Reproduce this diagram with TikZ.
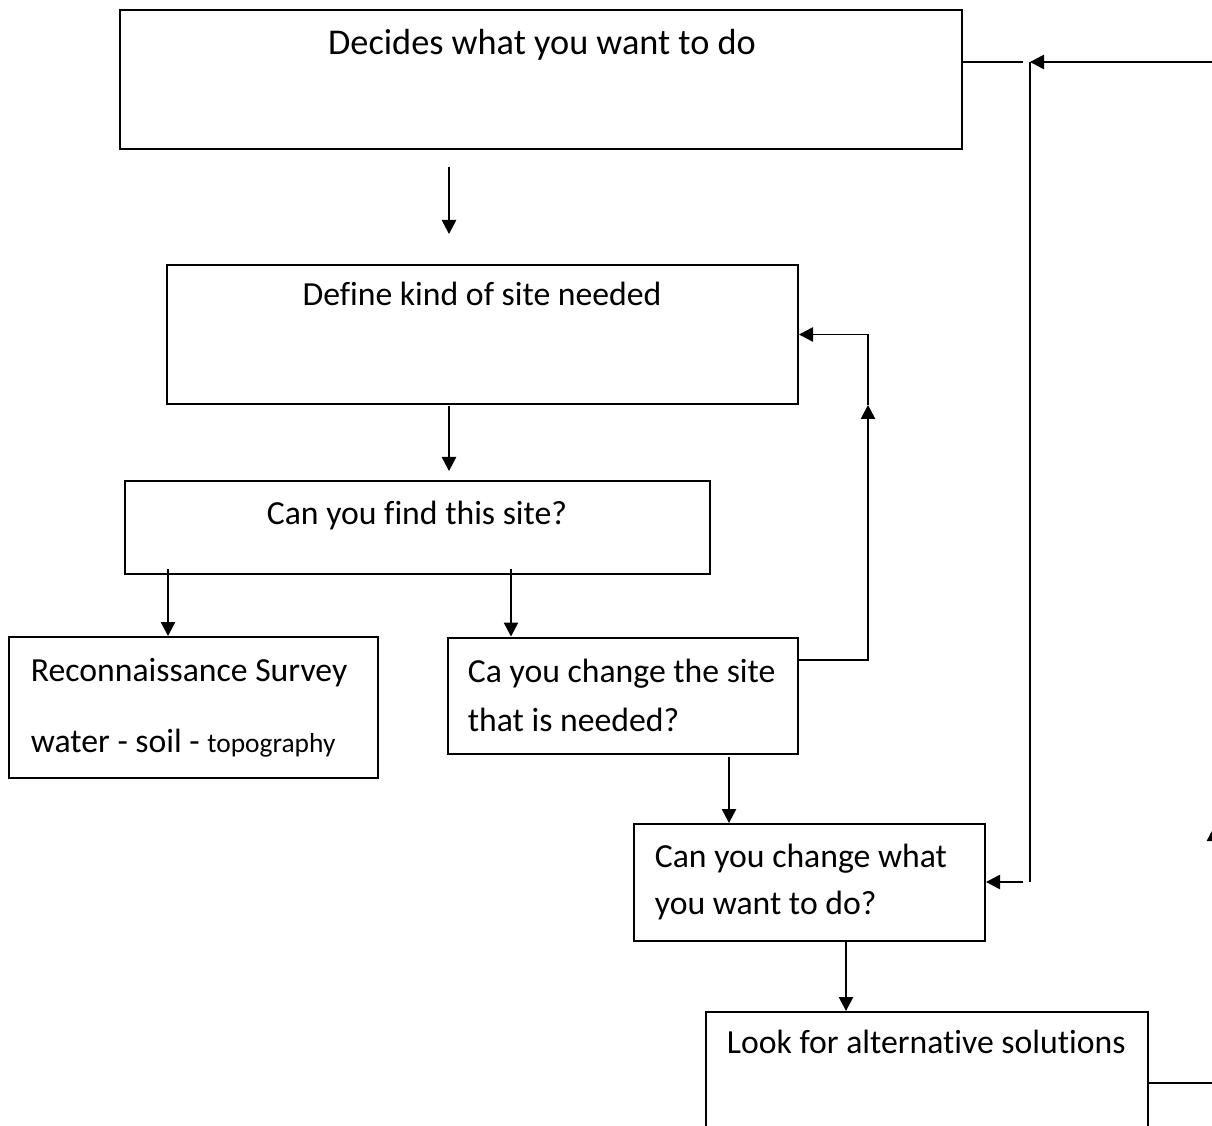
\documentclass[tikz,border=0pt]{standalone}
\usepackage{fontspec}
\setmainfont{Carlito}[Ligatures=NoCommon]
\usepackage{tikz}
\usetikzlibrary{positioning, arrows.meta}
\tikzset{>={Triangle[length=4.9pt,width=5pt]}}
\tikzset{box/.style={draw, line width=0.7pt, inner sep=0pt}}
\tikzset{txt/.style={inner sep=0pt, font=\fontsize{11.8}{14}\selectfont}}

\begin{document}
\begin{tikzpicture}[x=0.35pt, y=-0.35pt, line width=0.6pt]
\useasboundingbox (0,0) rectangle (1212,1126);
\clip (0,0) rectangle (1212,1126);
\node[box, minimum width=294.7pt, minimum height=48.65pt] at (541,79.5)(b1) {};
\node[box, minimum width=220.85pt, minimum height=48.65pt] at (482.5,334.5)(b2) {};
\node[box, minimum width=204.75pt, minimum height=32.55pt] at (417.5,527.5)(b3) {};
\node[box, minimum width=129.15pt, minimum height=49.35pt] at (193.5,707.5)(b4) {};
\node[box, minimum width=122.5pt, minimum height=40.6pt] at (623,695.5)(b5) {};
\node[box, minimum width=122.85pt, minimum height=40.95pt] at (809.5,882.5)(b6) {};
\node[box, minimum width=154.7pt, minimum height=51.8pt] at (927,1086)(b7) {};
\node[txt, anchor=base, font=\fontsize{12.7}{15}\selectfont] at (542,55)(t1) {Decides what you want to do};
\node[txt, anchor=base] at (482,306)(t2) {Define kind of site needed};
\node[txt, anchor=base] at (417,525)(t3) {Can you find this site?};
\node[txt, anchor=base west] at (30,681)(t4) {Reconnaissance Survey};
\node[txt, anchor=base west] at (30,752)(t5) {water - soil - {\fontsize{9.6}{11}\selectfont topography}};
\node[txt, anchor=base west] at (467,682)(t6) {Ca you change the site};
\node[txt, anchor=base west] at (467,731)(t7) {that is needed?};
\node[txt, anchor=base west] at (654,867)(t8) {Can you change what};
\node[txt, anchor=base west] at (654,914)(t9) {you want to do?};
\node[txt, anchor=base west] at (726,1053)(t10) {Look for alternative solutions};
\coordinate (up) at (868,405);
\coordinate (rt) at (1214,827);
\coordinate (tp) at (1030,62);
\coordinate (tl) at (1023,62);
\coordinate (bt) at (1030,882);
\draw[->] ([shift={(-92,17)}]b1.south) -- ([shift={(-33.5,-30)}]b2.north);
\draw[->] ([shift={(-33.5,1)}]b2.south) -- ([shift={(31.5,-9)}]b3.north);
\draw[->] ([shift={(-249.5,-6)}]b3.south) -- ([shift={(-25.5,0)}]b4.north);
\draw[->] ([shift={(93.5,-6)}]b3.south) -- ([shift={(-112,0)}]b5.north);
\draw[->] ([shift={(0,-35.5)}]b5.east) -| (up);
\draw[->] (up) |- (b2.east);
\draw[->] ([shift={(106,2)}]b5.south) -- ([shift={(-80.5,0)}]b6.north);
\draw[->] ([shift={(36.5,0)}]b6.south) -- ([shift={(-81,0)}]b7.north);
\draw[->] ([shift={(0,-3)}]b7.east) -| (rt);
\draw[->] (rt) |- (tp);
\draw ([shift={(0,-17.5)}]b1.east) -- (tl);
\draw (tp) -- (bt);
\draw[->] ([shift={(-7,0)}]bt) -- (b6.east |- bt);
\end{tikzpicture}
\end{document}
